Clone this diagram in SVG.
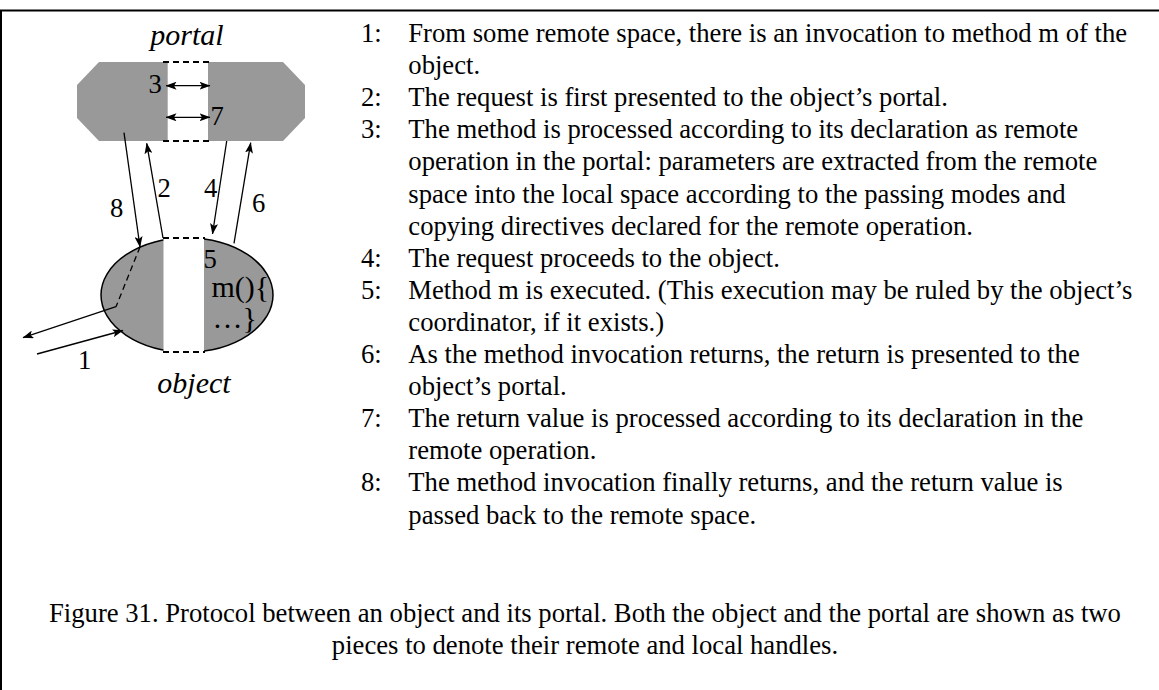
<svg xmlns="http://www.w3.org/2000/svg" width="1159" height="690" viewBox="0 0 1159 690">
<style>
  .t { font-family: "Liberation Serif", "Times New Roman", serif; font-size: 26.67px; fill: #000; }
  .it { font-family: "Liberation Serif", "Times New Roman", serif; font-size: 30px; font-style: italic; fill: #000; }
  .lbl { font-family: "Liberation Serif", "Times New Roman", serif; font-size: 26.67px; fill: #000; }
  .big { font-family: "Liberation Serif", "Times New Roman", serif; font-size: 30px; fill: #000; }
  .gray { fill: #999999; }
  .dash { stroke: #000; stroke-width: 2; stroke-dasharray: 6 4; fill: none; }
  .ln { stroke: #000; stroke-width: 1.3; fill: none; }
  .arr { stroke: #000; stroke-width: 1.3; fill: none; marker-end: url(#ah); }
  .arr2 { stroke: #000; stroke-width: 1.3; fill: none; marker-end: url(#ah); marker-start: url(#ah); }
</style>
<defs>
  <marker id="ah" markerUnits="userSpaceOnUse" markerWidth="11" markerHeight="8" refX="10.5" refY="4" orient="auto-start-reverse">
    <path d="M0,0 L11,4 L0,8 L2.5,4 z" fill="#000"/>
  </marker>
</defs>
<rect width="1159" height="690" fill="#fff"/>
<path d="M1,700 L1,10.5 L1160,10.5" fill="none" stroke="#000" stroke-width="2"/>

<g id="portal">
  <polygon class="gray" points="99,62 283,62 305,85 305,118 283,141 99,141 77,118 77,85"/>
  <rect x="167.7" y="62" width="40.3" height="79" fill="#fff"/>
  <line class="dash" x1="163" y1="62" x2="210" y2="62"/>
  <line class="dash" x1="163" y1="141" x2="210" y2="141"/>
  <text class="it" x="187" y="45" text-anchor="middle">portal</text>
</g>

<g id="object">
  <ellipse class="gray" cx="187" cy="295" rx="86" ry="57" stroke="#000" stroke-width="1.5"/>
  <rect x="163.5" y="237" width="40.5" height="116" fill="#fff"/>
  <line class="dash" x1="163" y1="238" x2="205" y2="238"/>
  <line class="dash" x1="163" y1="352" x2="205" y2="352"/>
  <text class="lbl" x="203.5" y="267.5">5</text>
  <text class="big" x="211.5" y="296.5">m(){</text>
  <text class="big" x="212.5" y="328">…}</text>
  <text class="it" x="194" y="393" text-anchor="middle">object</text>
</g>

<g id="connectors">
  <line class="arr2" x1="166" y1="85.7" x2="210" y2="85.7"/>
  <line class="arr2" x1="166" y1="117.3" x2="210" y2="117.3"/>
  <line class="arr" x1="124" y1="132.7" x2="140" y2="247"/>
  <line class="arr" x1="163" y1="238" x2="146.7" y2="143.3"/>
  <line class="arr" x1="226.7" y1="141" x2="212.5" y2="234"/>
  <line class="arr" x1="234" y1="243.3" x2="250.7" y2="142.7"/>
  <line class="ln" x1="140" y1="247" x2="116" y2="306.7" stroke-dasharray="6 4"/>
  <line class="arr" x1="116" y1="306.7" x2="23" y2="337.7"/>
  <line class="arr" x1="37" y1="354" x2="123" y2="330.5"/>
</g>

<g id="labels">
  <text class="lbl" x="148.5" y="93">3</text>
  <text class="lbl" x="210.5" y="125">7</text>
  <text class="lbl" x="110" y="217">8</text>
  <text class="lbl" x="157.5" y="197">2</text>
  <text class="lbl" x="204" y="197">4</text>
  <text class="lbl" x="252" y="212">6</text>
  <text class="lbl" x="78" y="369">1</text>
</g>

<g id="steps" class="t">
  <text x="361" y="42">1:</text><text x="408.3" y="42">From some remote space, there is an invocation to method m of the</text>
  <text x="408.3" y="74.1">object.</text>
  <text x="361" y="106.2">2:</text><text x="408.3" y="106.2">The request is first presented to the object’s portal.</text>
  <text x="361" y="138.3">3:</text><text x="408.3" y="138.3">The method is processed according to its declaration as remote</text>
  <text x="408.3" y="170.4">operation in the portal: parameters are extracted from the remote</text>
  <text x="408.3" y="202.5">space into the local space according to the passing modes and</text>
  <text x="408.3" y="234.6">copying directives declared for the remote operation.</text>
  <text x="361" y="266.7">4:</text><text x="408.3" y="266.7">The request proceeds to the object.</text>
  <text x="361" y="298.8">5:</text><text x="408.3" y="298.8">Method m is executed. (This execution may be ruled by the object’s</text>
  <text x="408.3" y="330.9">coordinator, if it exists.)</text>
  <text x="361" y="363">6:</text><text x="408.3" y="363">As the method invocation returns, the return is presented to the</text>
  <text x="408.3" y="395.1">object’s portal.</text>
  <text x="361" y="427.2">7:</text><text x="408.3" y="427.2">The return value is processed according to its declaration in the</text>
  <text x="408.3" y="459.3">remote operation.</text>
  <text x="361" y="491.4">8:</text><text x="408.3" y="491.4">The method invocation finally returns, and the return value is</text>
  <text x="408.3" y="523.5">passed back to the remote space.</text>
</g>

<g id="caption" class="t" text-anchor="middle">
  <text x="585" y="621.5">Figure 31. Protocol between an object and its portal. Both the object and the portal are shown as two</text>
  <text x="585" y="654">pieces to denote their remote and local handles.</text>
</g>
</svg>
